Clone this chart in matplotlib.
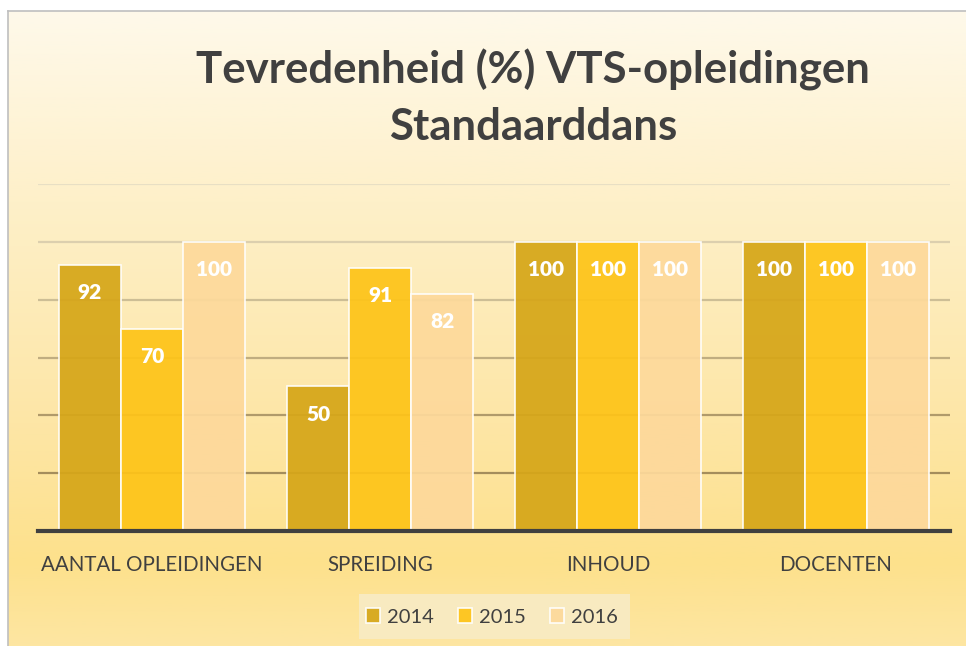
import numpy as np
import matplotlib

matplotlib.use("Agg")
import matplotlib.pyplot as plt
from matplotlib.colors import LinearSegmentedColormap
from matplotlib.patches import Rectangle

# data
categories = ["AANTAL OPLEIDINGEN", "SPREIDING", "INHOUD", "DOCENTEN"]
years = ["2014", "2015", "2016"]
v2014 = [92, 50, 100, 100]
v2015 = [70, 91, 100, 100]
v2016 = [100, 82, 100, 100]
title = "Tevredenheid (%) VTS-opleidingen\nStandaarddans"

colors = ["#D6A618", "#FEC418", "#FDD99B"]
text_grey = "#404040"
plt.rcParams["font.family"] = ["Lato", "DejaVu Sans"]

W, H = 966, 646
fig = plt.figure(figsize=(W / 100, H / 100), dpi=100)
fig.patch.set_facecolor("white")

# gradient background inside the chart frame
bg = fig.add_axes([8 / W, 0, 1 - 8 / W, 1 - 11 / H], zorder=0)
cmap = LinearSegmentedColormap.from_list(
    "bg", [(0.0, "#FEF9EA"), (0.3, "#FEF0C9"), (0.65, "#FDE6A6"),
           (0.87, "#FDE18C"), (1.0, "#FDE6A2")])
bg.imshow(np.linspace(0, 1, 256)[:, None], aspect="auto", cmap=cmap,
          extent=[0, 1, 0, 1])
bg.set_xlim(0, 1)
bg.set_ylim(0, 1)
bg.set_xticks([])
bg.set_yticks([])
for side in ["top", "left"]:
    bg.spines[side].set_color("#BFBFBF")
    bg.spines[side].set_linewidth(1.2)
for side in ["right", "bottom"]:
    bg.spines[side].set_visible(False)

ax = fig.add_axes([38 / W, (H - 531) / H, (950 - 38) / W, (531 - 184) / H],
                  zorder=1)
ax.patch.set_alpha(0)
x = np.arange(len(categories))
bw = 0.272
ax.set_xlim(-0.5, len(categories) - 0.5)
ax.set_ylim(0, 120)

grid_cols = ["#E8DFC4", "#DCCFAE", "#CDBE95", "#C0AD80", "#B09A6A", "#A48D5C"]
for i, gy in enumerate([120, 100, 80, 60, 40, 20]):
    ax.axhline(gy, color=grid_cols[i], lw=1.6, zorder=1)

for j, vals in enumerate([v2014, v2015, v2016]):
    bars = ax.bar(x + (j - 1) * bw, vals, width=bw, color=colors[j],
                  alpha=0.93, edgecolor=(1, 1, 1, 0.45), linewidth=1.2,
                  label=years[j], zorder=2)
    for b, v in zip(bars, vals):
        ax.annotate(str(v), (b.get_x() + b.get_width() / 2, v),
                    xytext=(0, -28), textcoords="offset pixels",
                    ha="center", va="center", color="white",
                    fontsize=15, fontweight="heavy", zorder=3)

ax.axhline(0, color=text_grey, lw=3, zorder=4, clip_on=False)
for s in ax.spines.values():
    s.set_visible(False)
ax.set_yticks([])
ax.set_xticks(x)
ax.set_xticklabels(categories, fontsize=14.8, color=text_grey)
ax.tick_params(axis="x", length=0, pad=17)

fig.text(533 / W, 1 - 98 / H, title, ha="center", va="center",
         fontsize=31.5, fontweight="bold", color=text_grey, linespacing=1.5)

# legend box
fig.patches.append(Rectangle((359 / W, 1 - 639 / H), (630 - 359) / W, 45 / H,
                             transform=fig.transFigure, facecolor="#F8EAC0",
                             edgecolor="none", zorder=2))
leg = fig.legend(loc="center", bbox_to_anchor=(492 / W, 1 - 617 / H), ncol=3,
                 frameon=False, fontsize=14.5, handlelength=0.7, handleheight=0.7,
                 handletextpad=0.35, columnspacing=1.2, labelcolor=text_grey)
leg.set_zorder(5)

fig.savefig("out.png", dpi=100)
